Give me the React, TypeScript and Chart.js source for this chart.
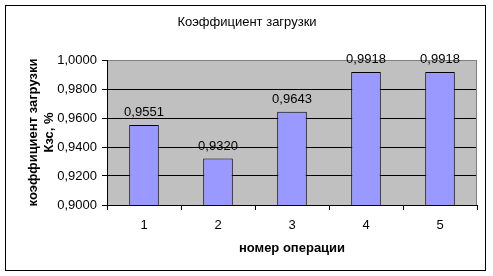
import React, { useEffect, useRef } from "react";
import { Chart, registerables } from "chart.js";

Chart.register(...registerables);

const categories = ["1", "2", "3", "4", "5"];
const loadFactor = [0.9551, 0.932, 0.9643, 0.9918, 0.9918];
const yMin = 0.9;
const yMax = 1.0;
const yStep = 0.02;
const chartTitle = "Коэффициент загрузки";
const yTitleLines = ["коэффициент загрузки", "Кзс, %"];
const xTitle = "номер операции";

const FONT = "'Liberation Sans', Arial, sans-serif";
const fmt = (v: number) => v.toFixed(4).replace(".", ",");

const decorPlugin = {
  id: "decor",
  beforeDraw(chart: any) {
    const { ctx, chartArea } = chart;
    ctx.save();
    ctx.fillStyle = "#ffffff";
    ctx.fillRect(0, 0, chart.width, chart.height);
    ctx.fillStyle = "#C0C0C0";
    ctx.fillRect(chartArea.left, chartArea.top, chartArea.right - chartArea.left, chartArea.bottom - chartArea.top);
    ctx.restore();
  },
  afterDraw(chart: any) {
    const { ctx, chartArea } = chart;
    ctx.save();
    ctx.strokeStyle = "#808080";
    ctx.lineWidth = 1;
    ctx.beginPath();
    ctx.moveTo(Math.round(chartArea.right) - 0.5, chartArea.top);
    ctx.lineTo(Math.round(chartArea.right) - 0.5, chartArea.bottom);
    ctx.stroke();
    ctx.strokeStyle = "#000000";
    ctx.strokeRect(5.5, 5.5, 480, 265);
    ctx.fillStyle = "#000";
    ctx.font = `13px ${FONT}`;
    ctx.textAlign = "center";
    ctx.textBaseline = "middle";
    ctx.fillText(chartTitle, 247, 22);
    ctx.font = `bold 13px ${FONT}`;
    ctx.fillText(xTitle, (chartArea.left + chartArea.right) / 2, 248);
    const cy = (chartArea.top + chartArea.bottom) / 2;
    ctx.save();
    ctx.translate(33, cy);
    ctx.rotate(-Math.PI / 2);
    ctx.fillText(yTitleLines[0], 0, 0);
    ctx.restore();
    ctx.save();
    ctx.translate(49, cy);
    ctx.rotate(-Math.PI / 2);
    ctx.fillText(yTitleLines[1], 0, 0);
    ctx.restore();
    const meta = chart.getDatasetMeta(0);
    ctx.font = `13px ${FONT}`;
    ctx.textBaseline = "alphabetic";
    meta.data.forEach((bar: any, i: number) => {
      ctx.fillText(fmt(chart.data.datasets[0].data[i]), bar.x, bar.y - 9);
    });
    ctx.restore();
  },
};

export default function App() {
  const ref = useRef<HTMLCanvasElement | null>(null);
  useEffect(() => {
    document.body.style.margin = "0";
    const chart = new Chart(ref.current!, {
      type: "bar",
      data: {
        labels: categories,
        datasets: [
          {
            data: loadFactor,
            backgroundColor: "#9999FF",
            borderColor: "#000000",
            borderWidth: 1,
            barPercentage: 0.4,
            categoryPercentage: 1,
          },
        ],
      },
      options: {
        animation: false,
        responsive: false,
        devicePixelRatio: 1,
        layout: { padding: { top: 60, right: 16, left: 0, bottom: 0 } },
        plugins: { legend: { display: false }, title: { display: false }, tooltip: { enabled: false } },
        scales: {
          x: {
            afterFit: (s: any) => { s.height = 71; },
            grid: { offset: true, drawOnChartArea: false, drawTicks: true, tickLength: 5, color: "#000" },
            border: { color: "#000" },
            ticks: { color: "#000", font: { family: FONT, size: 13 }, padding: 8 },
          },
          y: {
            min: yMin,
            max: yMax,
            afterFit: (s: any) => { s.width = 107; },
            grid: {
              color: (c: any) => (c.tick && Math.abs(c.tick.value - yMax) < 1e-9 ? "#808080" : "#000"),
              tickColor: "#000",
              tickLength: 5,
            },
            border: { color: "#000" },
            ticks: {
              stepSize: yStep,
              color: "#000",
              font: { family: FONT, size: 13 },
              padding: 5,
              callback: (v: any) => fmt(Number(v)),
            },
          },
        },
      },
      plugins: [decorPlugin],
    });
    return () => chart.destroy();
  }, []);
  return (
    <div style={{ width: 493, height: 276 }}>
      <canvas ref={ref} width={493} height={276} />
    </div>
  );
}
